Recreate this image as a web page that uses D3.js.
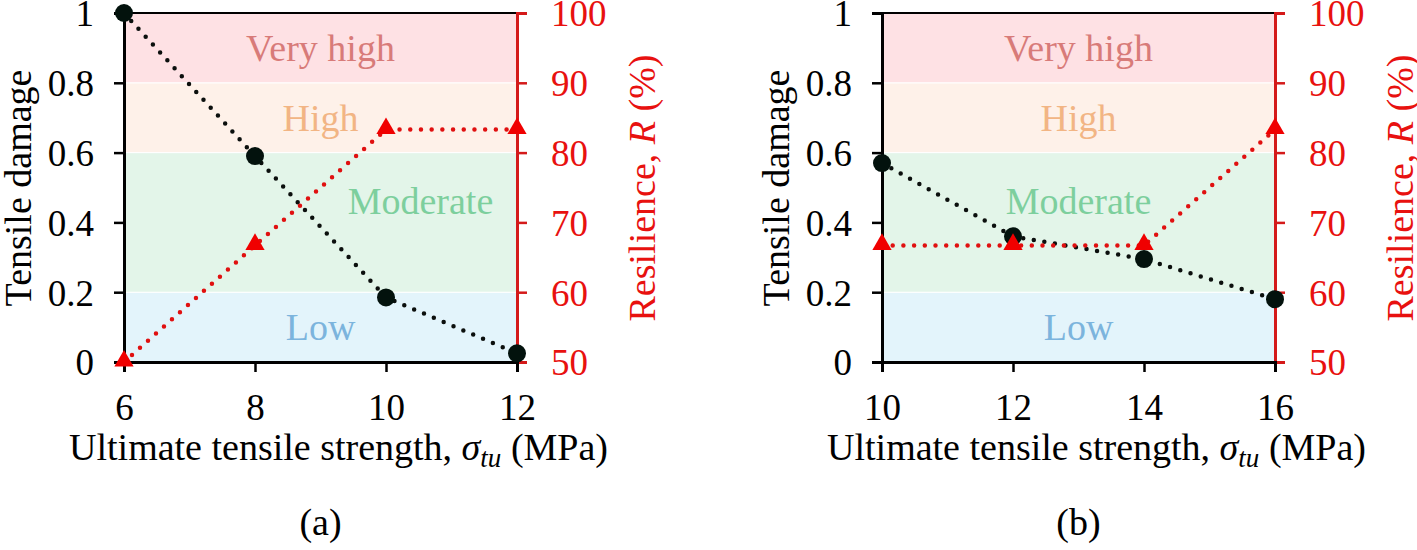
<!DOCTYPE html>
<html>
<head>
<meta charset="utf-8">
<script src="https://cdn.jsdelivr.net/npm/d3@7"></script>
<style>
  body { margin: 0; background: #fff; }
</style>
</head>
<body>
<div id="chart"></div>
<script>
// data
const strengthA = [6, 8, 10, 12]
const damageA = [1.0, 0.59, 0.185, 0.025]
const resilienceA = [50, 66.7, 83.3, 83.3]

const strengthB = [10, 12, 14, 16]
const damageB = [0.57, 0.36, 0.295, 0.18]
const resilienceB = [66.7, 66.7, 66.7, 83.3]

const bandNames = ['Low', 'Moderate', 'High', 'Very high']
const bandEdges = [0, 0.2, 0.6, 0.8, 1.0]
const damageTicks = [0, 0.2, 0.4, 0.6, 0.8, 1]
const resilienceTicks = [50, 60, 70, 80, 90, 100]
const panelTags = ['(a)', '(b)']

const bandFill = ['#e3f4fb', '#e3f5e9', '#fef1e9', '#fee1e4']
const bandText = ['#7cb4dd', '#7dcf9d', '#f2b584', '#d87b79']
const red = '#e8110f'
const serif = '"Liberation Serif"'

document.addEventListener('DOMContentLoaded', function(){
  drawChart();
});

function drawChart() {
  const svg = d3.select('#chart').append('svg').attr('width', 1417).attr('height', 550);

  const top = 13, bottom = 362;
  const panels = [
    {x: strengthA, dmg: damageA, res: resilienceA, left: 124, right: 517, tag: panelTags[0], modShift: 100},
    {x: strengthB, dmg: damageB, res: resilienceB, left: 882, right: 1275, tag: panelTags[1], modShift: 0}
  ];

  const yDmg = d3.scaleLinear().domain([0, 1]).range([bottom, top]);
  const yRes = d3.scaleLinear().domain([50, 100]).range([bottom, top]);

  function label(sel, size) {
    return sel.style('font-family', serif).style('font-size', (size || 38) + 'px');
  }

  panels.forEach(function(p) {
    const g = svg.append('g');
    const x = d3.scaleLinear().domain(d3.extent(p.x)).range([p.left, p.right]);
    const mid = (p.left + p.right) / 2;

    // coloured bands
    bandNames.forEach(function(name, i) {
      g.append('rect')
        .attr('x', p.left).attr('width', p.right - p.left)
        .attr('y', yDmg(bandEdges[i + 1])).attr('height', yDmg(bandEdges[i]) - yDmg(bandEdges[i + 1]))
        .style('fill', bandFill[i]).style('stroke', '#fff').style('stroke-width', 1);
    });
    bandNames.forEach(function(name, i) {
      let cy = yDmg((bandEdges[i] + bandEdges[i + 1]) / 2);
      let cx = mid;
      if (name === 'Moderate') { cy -= 22; cx += p.modShift; }
      g.append('text')
        .attr('x', cx).attr('y', cy).attr('dy', '0.35em')
        .attr('text-anchor', 'middle')
        .call(label).style('fill', bandText[i])
        .text(name);
    });

    // top frame
    g.append('line').attr('x1', p.left).attr('x2', p.right).attr('y1', top).attr('y2', top)
      .style('stroke', '#000').style('stroke-width', 2);

    // axes
    const axL = g.append('g').attr('transform', 'translate(' + p.left + ',0)')
      .call(d3.axisLeft(yDmg).tickValues(damageTicks).tickSize(10).tickPadding(20).tickFormat(d3.format('~g')));
    const axR = g.append('g').attr('transform', 'translate(' + p.right + ',0)')
      .call(d3.axisRight(yRes).tickValues(resilienceTicks).tickSize(10).tickPadding(24).tickFormat(d3.format('d')));
    const axB = g.append('g').attr('transform', 'translate(0,' + bottom + ')')
      .call(d3.axisBottom(x).tickValues(p.x).tickSize(10).tickPadding(22).tickFormat(d3.format('d')));

    [axL, axR, axB].forEach(function(a) { a.selectAll('.tick text').call(label, 37); });
    [axL, axB].forEach(function(a) {
      a.select('.domain').style('stroke', '#000').style('stroke-width', 3);
      a.selectAll('.tick line').style('stroke', '#000').style('stroke-width', 2.5);
      a.selectAll('.tick text').style('fill', '#000');
    });
    axR.select('.domain').style('stroke', '#d41a1a').style('stroke-width', 3);
    axR.selectAll('.tick line').style('stroke', '#d41a1a').style('stroke-width', 2.5);
    axR.selectAll('.tick text').style('fill', red);
    axL.selectAll('.tick text').attr('dy', '0.35em');
    axR.selectAll('.tick text').attr('dy', '0.35em');
    axB.selectAll('.tick text').attr('dy', '0.7em');

    // series: damage (black circles) then resilience (red triangles)
    const dmgPts = p.x.map(function(v, i) { return [x(v), yDmg(p.dmg[i])]; });
    const resPts = p.x.map(function(v, i) { return [x(v), yRes(p.res[i])]; });

    g.append('path').attr('d', d3.line()(dmgPts))
      .style('fill', 'none').style('stroke', '#0b0f0d').style('stroke-width', 4.5)
      .style('stroke-linecap', 'round').style('stroke-dasharray', '0 10.7');
    g.selectAll('.dmg').data(dmgPts).enter().append('circle')
      .attr('cx', function(d) { return d[0]; }).attr('cy', function(d) { return d[1]; })
      .attr('r', 9).style('fill', '#03120d');

    g.append('path').attr('d', d3.line()(resPts))
      .style('fill', 'none').style('stroke', '#e01010').style('stroke-width', 4.5)
      .style('stroke-linecap', 'round').style('stroke-dasharray', '0 10.7');
    g.selectAll('.res').data(resPts).enter().append('path')
      .attr('transform', function(d) { return 'translate(' + d[0] + ',' + (d[1] - 1) + ')'; })
      .attr('d', d3.symbol().type(d3.symbolTriangle).size(160))
      .style('fill', '#f00000');

    // axis titles
    const xt = g.append('text').attr('x', mid + 18).attr('y', 460).attr('text-anchor', 'middle')
      .call(label).style('fill', '#000');
    xt.append('tspan').text('Ultimate tensile strength, ');
    xt.append('tspan').style('font-style', 'italic').text('σ');
    xt.append('tspan').style('font-style', 'italic').style('font-size', '27px').attr('dy', 7).text('tu');
    xt.append('tspan').attr('dy', -7).text(' (MPa)');

    g.append('text')
      .attr('transform', 'translate(' + (p.left - 106) + ',' + 188 + ') rotate(-90)')
      .attr('text-anchor', 'middle').attr('dy', '0.35em')
      .call(label).style('fill', '#000')
      .text('Tensile damage');

    const rt = g.append('text')
      .attr('transform', 'translate(' + (p.right + 125) + ',' + 188 + ') rotate(-90)')
      .attr('text-anchor', 'middle').attr('dy', '0.35em')
      .call(label).style('fill', red);
    rt.append('tspan').text('Resilience, ');
    rt.append('tspan').style('font-style', 'italic').text('R');
    rt.append('tspan').text(' (%)');

    g.append('text').attr('x', mid).attr('y', 535).attr('text-anchor', 'middle')
      .call(label).style('fill', '#000').text(p.tag);
  });
}
</script>
</body>
</html>
